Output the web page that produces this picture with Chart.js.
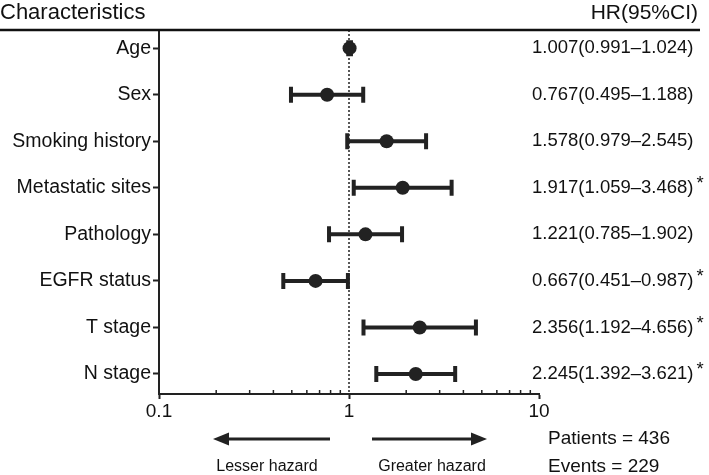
<!DOCTYPE html>
<html>
<head>
<meta charset="utf-8">
<script src="https://cdn.jsdelivr.net/npm/chart.js@4/dist/chart.umd.min.js"></script>
<style>
  html, body { margin: 0; padding: 0; background: #fff; }
  #wrap { width: 709px; height: 475px; position: relative; }
</style>
</head>
<body>
<div id="wrap"><canvas id="forest"></canvas></div>
<script>
// datos
const categorias = ["Age", "Sex", "Smoking history", "Metastatic sites", "Pathology", "EGFR status", "T stage", "N stage"];
const hr = [1.007, 0.767, 1.578, 1.917, 1.221, 0.667, 2.356, 2.245];
const inferior = [0.991, 0.495, 0.979, 1.059, 0.785, 0.451, 1.192, 1.392];
const superior = [1.024, 1.188, 2.545, 3.468, 1.902, 0.987, 4.656, 3.621];
const significativo = [false, false, false, true, false, true, true, true];
const ticksX = [0.1, 1, 10];

const TINTA = "#222";
const FUENTE = "'Liberation Sans', Arial, Helvetica, sans-serif";

// barras de error, linea punteada, textos
const forestPlugin = {
    id: "forest",
    beforeDatasetsDraw(chart) {
        const ctx = chart.ctx;
        const x = chart.scales.x;
        const y = chart.scales.y;
        const area = chart.chartArea;

        // linea de referencia en HR = 1
        ctx.save();
        ctx.strokeStyle = TINTA;
        ctx.lineWidth = 1.5;
        ctx.setLineDash([2, 2]);
        ctx.beginPath();
        ctx.moveTo(x.getPixelForValue(1), area.top);
        ctx.lineTo(x.getPixelForValue(1), area.bottom);
        ctx.stroke();
        ctx.restore();

        // intervalos de confianza
        ctx.save();
        ctx.strokeStyle = TINTA;
        ctx.lineWidth = 4;
        categorias.forEach((c, i) => {
            const py = y.getPixelForValue(i);
            const x1 = x.getPixelForValue(inferior[i]);
            const x2 = x.getPixelForValue(superior[i]);
            ctx.beginPath();
            ctx.moveTo(x1, py);
            ctx.lineTo(x2, py);
            ctx.stroke();
            ctx.beginPath();
            ctx.moveTo(x1, py - 8);
            ctx.lineTo(x1, py + 8);
            ctx.moveTo(x2, py - 8);
            ctx.lineTo(x2, py + 8);
            ctx.stroke();
        });
        ctx.restore();
    },
    afterDraw(chart) {
        const ctx = chart.ctx;
        const x = chart.scales.x;
        const y = chart.scales.y;
        const area = chart.chartArea;
        ctx.save();

        // ticks menores del eje log
        ctx.strokeStyle = TINTA;
        ctx.lineWidth = 1.5;
        [0.1, 1].forEach(base => {
            for (let k = 2; k <= 9; k++) {
                const px = x.getPixelForValue(base * k);
                ctx.beginPath();
                ctx.moveTo(px, area.bottom);
                ctx.lineTo(px, area.bottom - 4);
                ctx.stroke();
            }
        });

        // encabezado
        ctx.fillStyle = "#111";
        ctx.textBaseline = "middle";
        ctx.textAlign = "left";
        ctx.font = "22px " + FUENTE;
        ctx.fillText("Characteristics", 0, 13);
        ctx.textAlign = "right";
        ctx.font = "21px " + FUENTE;
        ctx.fillText("HR(95%CI)", 698, 13);
        ctx.strokeStyle = "#111";
        ctx.lineWidth = 2.5;
        ctx.beginPath();
        ctx.moveTo(0, 30);
        ctx.lineTo(700, 30);
        ctx.stroke();

        // HR (IC95%)
        ctx.font = "18.5px " + FUENTE;
        ctx.textAlign = "left";
        categorias.forEach((c, i) => {
            const py = y.getPixelForValue(i);
            const txt = hr[i].toFixed(3) + "(" + inferior[i].toFixed(3) + "\u2013" + superior[i].toFixed(3) + ")";
            ctx.fillText(txt, 532, py);
            if (significativo[i]) {
                const w = ctx.measureText(txt).width;
                ctx.fillText("*", 532 + w + 3, py - 4);
            }
        });

        // flechas
        ctx.strokeStyle = TINTA;
        ctx.fillStyle = TINTA;
        ctx.lineWidth = 3;
        const flecha = (xa, xb, py) => {
            const dir = Math.sign(xb - xa);
            ctx.beginPath();
            ctx.moveTo(xa, py);
            ctx.lineTo(xb - dir * 14, py);
            ctx.stroke();
            ctx.beginPath();
            ctx.moveTo(xb, py);
            ctx.lineTo(xb - dir * 16, py - 6.5);
            ctx.lineTo(xb - dir * 16, py + 6.5);
            ctx.closePath();
            ctx.fill();
        };
        flecha(330, 213, 439);
        flecha(372, 487, 439);

        ctx.fillStyle = "#111";
        ctx.font = "16px " + FUENTE;
        ctx.textAlign = "center";
        ctx.fillText("Lesser hazard", 267, 467);
        ctx.fillText("Greater hazard", 432, 467);

        ctx.font = "19px " + FUENTE;
        ctx.textAlign = "left";
        ctx.fillText("Patients = 436", 548, 439);
        ctx.fillText("Events = 229", 548, 467);
        ctx.restore();
    }
};

const puntos = hr.map((v, i) => ({ x: v, y: i }));

new Chart(document.getElementById("forest"), {
    type: "scatter",
    data: {
        datasets: [{
            data: puntos,
            pointRadius: 7,
            pointHoverRadius: 7,
            backgroundColor: TINTA,
            borderColor: TINTA,
            borderWidth: 0
        }]
    },
    options: {
        responsive: true,
        maintainAspectRatio: false,
        animation: false,
        events: [],
        layout: { padding: { top: 30, right: 170, bottom: 51, left: 0 } },
        plugins: { legend: { display: false }, tooltip: { enabled: false } },
        scales: {
            x: {
                type: "logarithmic",
                min: 0.1,
                max: 10,
                afterBuildTicks: (s) => { s.ticks = ticksX.map(v => ({ value: v, major: true })); },
                afterFit: (s) => { s.height = 30; },
                border: { display: true, color: TINTA, width: 2 },
                grid: { drawOnChartArea: false, drawTicks: true, tickLength: 5, tickWidth: 2, tickColor: TINTA },
                ticks: {
                    color: "#111",
                    font: { family: FUENTE, size: 19 },
                    padding: 1,
                    maxRotation: 0,
                    callback: (v) => String(v)
                }
            },
            y: {
                type: "linear",
                reverse: true,
                min: -0.39,
                max: 7.43,
                afterBuildTicks: (s) => { s.ticks = categorias.map((c, i) => ({ value: i })); },
                afterFit: (s) => { s.width = 159; },
                border: { display: true, color: TINTA, width: 2 },
                grid: { drawOnChartArea: false, drawTicks: true, tickLength: 6, tickWidth: 2, tickColor: TINTA },
                ticks: {
                    color: "#111",
                    font: { family: FUENTE, size: 19.5 },
                    padding: 2,
                    callback: (v) => categorias[v]
                }
            }
        }
    },
    plugins: [forestPlugin]
});
</script>
</body>
</html>
